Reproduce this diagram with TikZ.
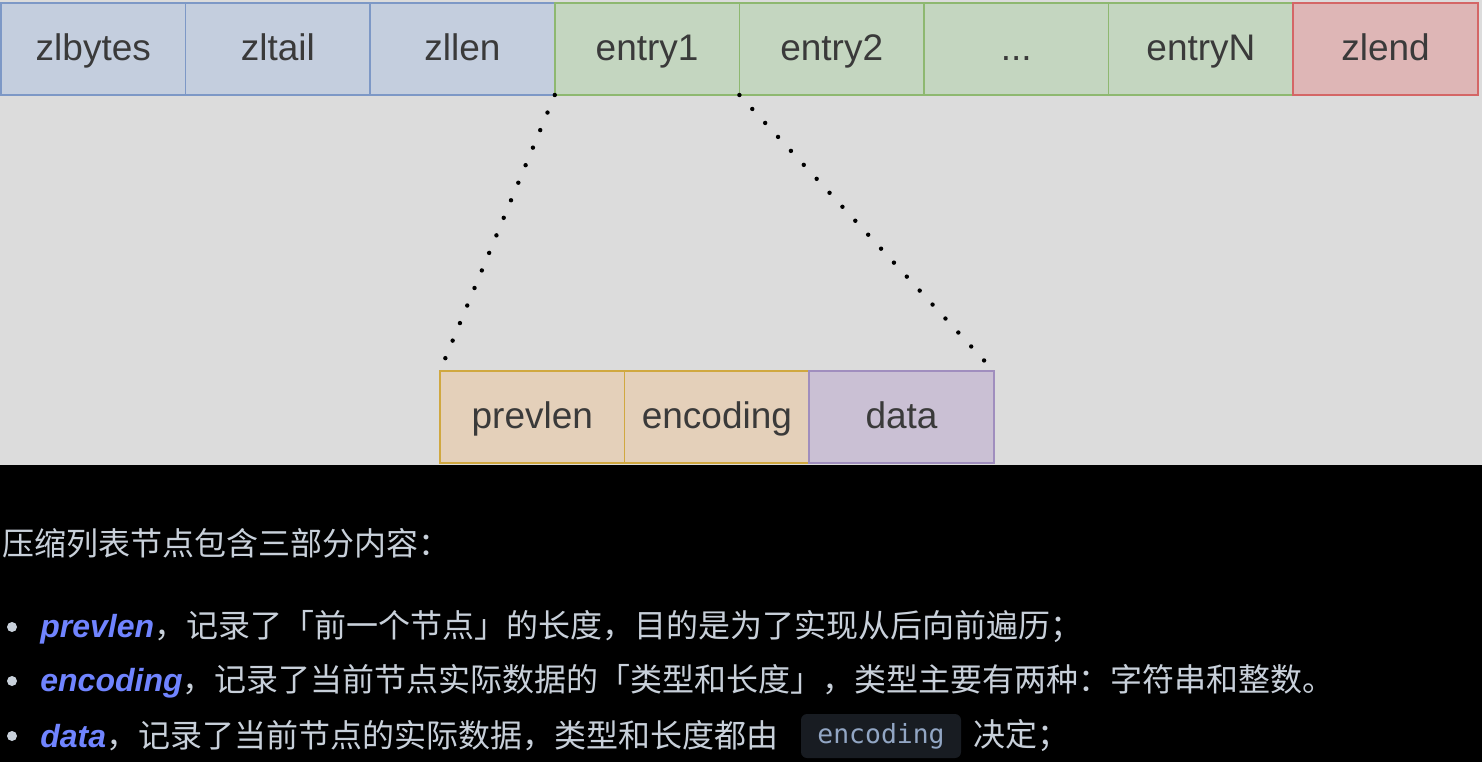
\documentclass[tikz,border=0pt]{standalone}
\usepackage{fontspec}
\usepackage{xcolor}
\usetikzlibrary{positioning}
\setmainfont{Liberation Sans}
\setmonofont{DejaVu Sans Mono}
\newfontfamily\cjk{Noto Sans CJK SC}

\definecolor{bggrey}{RGB}{220,220,220}
\definecolor{hdrfill}{RGB}{196,206,222}
\definecolor{hdrline}{RGB}{125,152,198}
\definecolor{entfill}{RGB}{196,214,192}
\definecolor{entline}{RGB}{142,184,112}
\definecolor{endfill}{RGB}{222,182,182}
\definecolor{endline}{RGB}{212,102,102}
\definecolor{prvfill}{RGB}{228,208,186}
\definecolor{prvline}{RGB}{208,168,64}
\definecolor{datfill}{RGB}{202,192,212}
\definecolor{datline}{RGB}{160,142,190}
\definecolor{labeltxt}{RGB}{58,58,58}
\definecolor{bodytxt}{RGB}{200,208,218}
\definecolor{keyblue}{RGB}{112,132,255}
\definecolor{codebg}{RGB}{24,28,34}
\definecolor{codetxt}{RGB}{146,166,196}

\newcommand*{\keyword}[1]{{\rmfamily\fontsize{16}{19}\selectfont\bfseries\itshape\color{keyblue}#1}}

\tikzset{
  field/.style={draw, line width=0.75pt, outer sep=0pt, inner sep=0pt,
    minimum width=92.3pt, minimum height=46pt, text=labeltxt,
    text height=14pt, text depth=2.5pt,
    font=\fontsize{18.5}{22}\selectfont},
  header/.style={field, fill=hdrfill, draw=hdrline},
  entry/.style={field, fill=entfill, draw=entline},
  tailend/.style={field, fill=endfill, draw=endline},
  dotline/.style={line width=2.2pt, line cap=round, dash pattern=on 0pt off 9.5pt},
  bodyline/.style={anchor=west, inner sep=0pt, text=bodytxt,
    font=\cjk\fontsize{16}{19}\selectfont},
  bulletmark/.style={circle, fill=bodytxt, inner sep=0pt, minimum size=5pt}
}

\begin{document}
\begin{tikzpicture}[x=0.5pt, y=-0.5pt]
 % Backgrounds
 \fill[black] (0,0) rectangle (1482,762);
 \fill[bggrey] (0,0) rectangle (1482,465);

 % Ziplist layout
 \node[header, anchor=north west] (zlbytes) at (1,3) {zlbytes};
 \node[header, right=0pt of zlbytes] (zltail) {zltail};
 \node[header, right=0pt of zltail] (zllen) {zllen};
 \node[entry, right=0pt of zllen] (entry1) {entry1};
 \node[entry, right=0pt of entry1] (entry2) {entry2};
 \node[entry, right=0pt of entry2] (dots) {...};
 \node[entry, right=0pt of dots] (entryN) {entryN};
 \node[tailend, right=0pt of entryN] (zlend) {zlend};

 % Entry layout
 \node[field, fill=prvfill, draw=prvline, anchor=north west] (prevlen) at (440,371) {prevlen};
 \node[field, fill=prvfill, draw=prvline, right=0pt of prevlen] (encoding) {encoding};
 \node[field, fill=datfill, draw=datline, right=0pt of encoding] (data) {data};

 % Zoom lines
 \draw[dotline] (entry1.south west) -- (prevlen.north west);
 \draw[dotline] (entry1.south east) -- (data.north east);

 % Description
 \node[bodyline] (intro) at (2,543) {压缩列表节点包含三部分内容：};

 \node[bulletmark] (b1) at (12,627) {};
 \node[bodyline] (line1) at (40,627) {\keyword{prevlen}，记录了「前一个节点」的长度，目的是为了实现从后向前遍历；};

 \node[bulletmark] (b2) at (12,681) {};
 \node[bodyline] (line2) at (40,681) {\keyword{encoding}，记录了当前节点实际数据的「类型和长度」，类型主要有两种：字符串和整数。};

 \node[bulletmark] (b3) at (12,736) {};
 \node[bodyline] (line3) at (40,736) {\keyword{data}，记录了当前节点的实际数据，类型和长度都由};
 \node[fill=codebg, rounded corners=3pt, minimum width=80pt, minimum height=22pt,
    inner sep=0pt, text=codetxt, font=\ttfamily\fontsize{13.2}{16}\selectfont,
    right=11pt of line3] (code) {encoding};
 \node[bodyline, right=6pt of code] (line3end) {决定；};
\end{tikzpicture}
\end{document}
